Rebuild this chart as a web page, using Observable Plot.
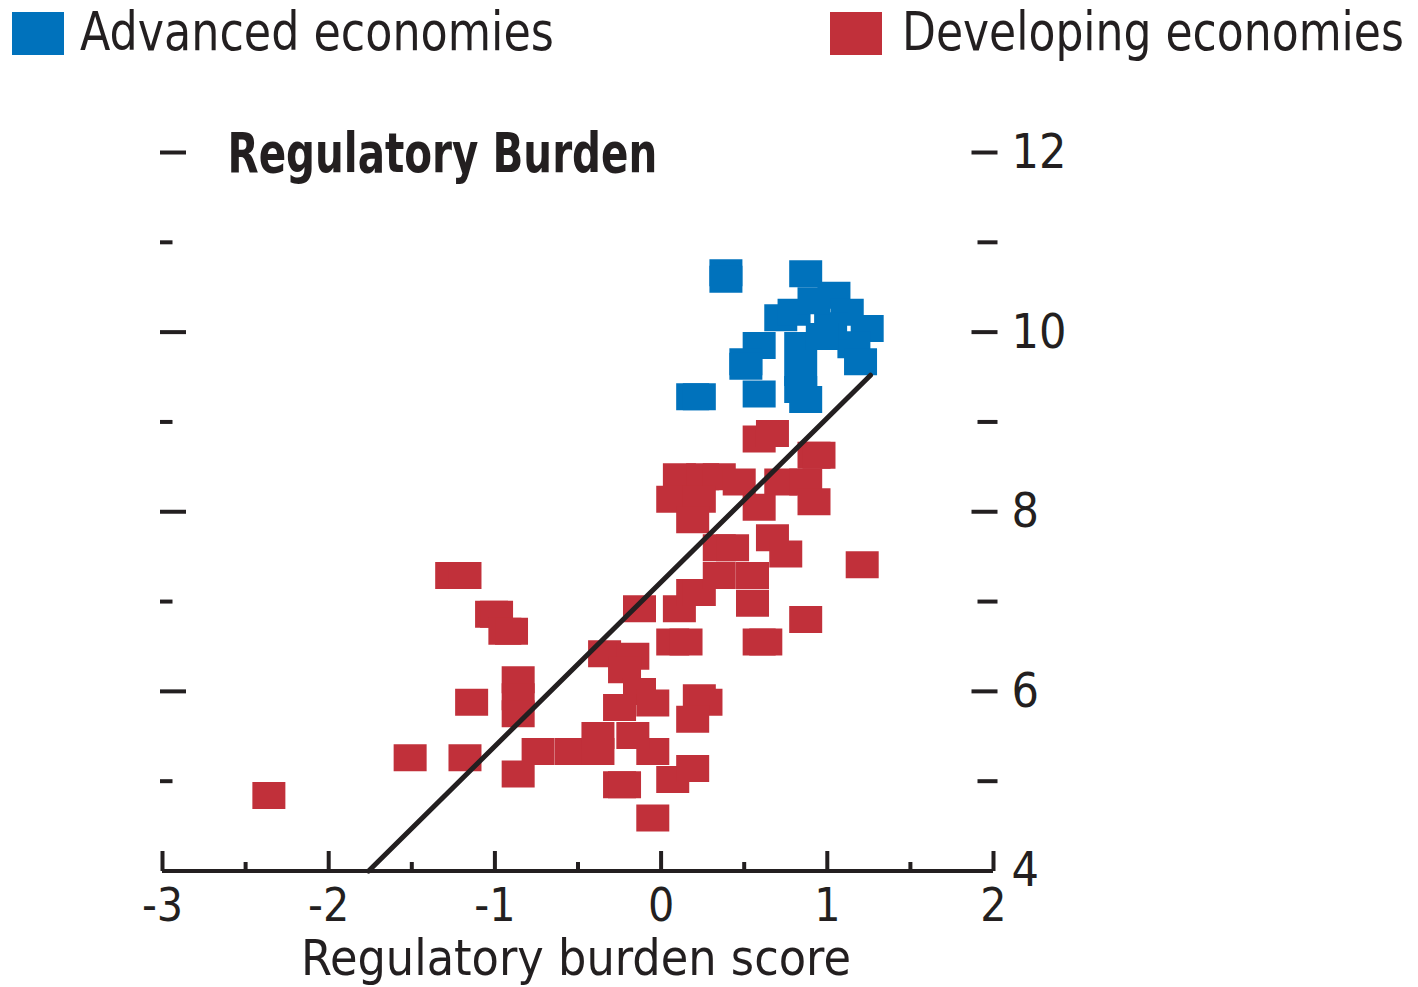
<!DOCTYPE html>
<html><head><meta charset="utf-8">
<script src="https://cdn.jsdelivr.net/npm/d3@7"></script>
<script src="https://cdn.jsdelivr.net/npm/@observablehq/plot@0.6"></script>
<style>
body{margin:0;background:#fff;}
#chart{width:1418px;height:987px;overflow:hidden;}
#chart svg{display:block;}
</style></head><body><div id="chart"></div>
<script>
const FONT = "'Liberation Sans Narrow','Arial Narrow','DejaVu Sans Condensed','Liberation Sans',sans-serif";
const INK = "#231f20";

// ---- data ----
const seriesNames = ["Advanced economies", "Developing economies"];
const seriesColors = ["#0072bc", "#c1303a"];

const advancedX = [0.39, 0.39, 0.87, 1.04, 1.12, 1.24, 0.72, 0.80, 0.59, 0.51, 0.51, 0.59, 0.84, 0.84, 0.84, 0.87, 1.16, 1.20, 1.02, 0.19, 0.23, 0.92, 0.97];
const advancedY = [10.66, 10.59, 10.65, 10.41, 10.22, 10.04, 10.16, 10.22, 9.85, 9.67, 9.62, 9.31, 9.85, 9.55, 9.36, 9.25, 9.86, 9.67, 10.07, 9.28, 9.28, 10.35, 9.95];

const developingX = [-2.36, -1.51, -1.18, -1.14, -0.86, -0.86, -0.86, -0.86, -1.26, -1.18, -1.02, -0.99, -0.94, -0.90,
  -0.74, -0.54, -0.38, -0.05, -0.38, -0.17, -0.25, -0.22, 0.07, 0.19, -0.05, -0.34, -0.17, -0.22, -0.13, -0.05, -0.25,
  0.23, 0.27, 0.19, -0.13, 0.11, 0.19, 0.23, 0.07, 0.15, 0.59, 0.63, 0.87, 1.21, 0.59, 0.67, 0.92, 0.95, 0.72, 0.87,
  0.92, 0.11, 0.25, 0.35, 0.47, 0.07, 0.23, 0.19, 0.59, 0.67, 0.75, 0.35, 0.43, 0.35, 0.55, 0.55];
const developingY = [4.84, 5.26, 5.26, 5.88, 6.13, 5.94, 5.75, 5.08, 7.29, 7.29, 6.86, 6.86, 6.67, 6.67,
  5.33, 5.33, 5.33, 5.33, 5.51, 5.51, 4.96, 4.96, 5.02, 5.14, 4.59, 6.42, 6.39, 6.24, 6.00, 5.87, 5.82,
  5.93, 5.88, 5.69, 6.92, 6.92, 7.10, 7.10, 6.55, 6.55, 6.55, 6.55, 6.80, 7.41, 8.81, 8.87, 8.63, 8.63, 8.33, 8.33,
  8.11, 8.39, 8.39, 8.39, 8.33, 8.14, 8.14, 7.91, 8.05, 7.71, 7.53, 7.60, 7.60, 7.29, 7.29, 6.98];

const fitX = [-1.76, 1.26];
const fitY = [4, 9.52];

const xDomain = [-3, 2];
const yDomain = [4, 12];
const xMajorTicks = [-3, -2, -1, 0, 1, 2];
const xMinorTicks = [-2.5, -1.5, -0.5, 0.5, 1.5];
const yMajorTicks = [6, 8, 10, 12];
const yMinorTicks = [5, 7, 9, 11];
const yLabels = [4, 6, 8, 10, 12];
const chartTitle = "Regulatory Burden";
const xTitle = "Regulatory burden score";

// ---- helpers ----
const rectSymbol = (w, h, ox = 0, oy = 0) => ({
  draw(ctx) { ctx.rect(ox - w / 2, oy - h / 2, w, h); }
});
// squeeze a text horizontally to a target width, keeping its anchor point
function squeeze(t, target) {
  const natural = t.getComputedTextLength();
  if (!natural) return;
  const k = target / natural;
  const x = +(t.getAttribute("x") || 0);
  const prev = t.getAttribute("transform") || "";
  t.setAttribute("transform", `${prev} translate(${x},0) scale(${k},1) translate(${-x},0)`);
}

const advanced = advancedX.map((x, i) => ({x, y: advancedY[i]}));
const developing = developingX.map((x, i) => ({x, y: developingY[i]}));
const fit = fitX.map((x, i) => ({x, y: fitY[i]}));

const chart = document.getElementById("chart");

// ---- legend (above the plot) ----
const legendH = 70;
const legend = d3.create("svg").attr("width", 1418).attr("height", legendH)
  .style("font-family", FONT);
const legendItems = [
  {name: seriesNames[0], color: seriesColors[0], x: 12, tx: 80, w: 474},
  {name: seriesNames[1], color: seriesColors[1], x: 830, tx: 902, w: 502}
];
const legendTexts = [];
for (const it of legendItems) {
  legend.append("rect").attr("x", it.x).attr("y", 12).attr("width", 52).attr("height", 43).attr("fill", it.color);
  legendTexts.push([legend.append("text").attr("x", it.tx).attr("y", 50).attr("font-size", 53).attr("fill", INK)
    .text(it.name).node(), it.w]);
}
chart.append(legend.node());
legendTexts.forEach(([t, w]) => squeeze(t, w));

// ---- plot ----
const H = 987 - legendH;
const plot = Plot.plot({
  width: 1418,
  height: H,
  marginLeft: 162,
  marginRight: 425,
  marginTop: 152 - legendH,
  marginBottom: H - (870.5 - legendH),
  x: {domain: xDomain, axis: null},
  y: {domain: yDomain, axis: null},
  style: {fontFamily: FONT, color: INK, background: "#fff", overflow: "visible"},
  marks: [
    // x axis line and ticks
    Plot.ruleY([4], {stroke: INK, strokeWidth: 4}),
    Plot.dot(xMajorTicks, {x: d => d, frameAnchor: "bottom", symbol: rectSymbol(4, 20, 0, -10), fill: INK, stroke: null}),
    Plot.dot(xMinorTicks, {x: d => d, frameAnchor: "bottom", symbol: rectSymbol(4, 9, 0, -4.5), fill: INK, stroke: null}),
    Plot.text(xMajorTicks, {x: d => d, text: d => String(d), frameAnchor: "bottom", dy: 50, fontSize: 46, fill: INK}),
    // left y ticks
    Plot.dot(yMajorTicks, {y: d => d, frameAnchor: "left", symbol: rectSymbol(26, 4, 10.5, 0), fill: INK, stroke: null}),
    Plot.dot(yMinorTicks, {y: d => d, frameAnchor: "left", symbol: rectSymbol(12.5, 4, 3.75, 0), fill: INK, stroke: null}),
    // right y ticks + labels
    Plot.dot(yMajorTicks, {y: d => d, frameAnchor: "right", symbol: rectSymbol(26, 4, -9, 0), fill: INK, stroke: null}),
    Plot.dot(yMinorTicks, {y: d => d, frameAnchor: "right", symbol: rectSymbol(20, 4, -6, 0), fill: INK, stroke: null}),
    Plot.text(yLabels, {y: d => d, text: d => String(d), frameAnchor: "right", dx: 18, textAnchor: "start", fontSize: 48, fill: INK}),
    // points
    Plot.dot(developing, {x: "x", y: "y", symbol: rectSymbol(33, 27), fill: seriesColors[1], stroke: null}),
    Plot.dot(advanced, {x: "x", y: "y", symbol: rectSymbol(33, 27), fill: seriesColors[0], stroke: null}),
    // fit line
    Plot.line(fit, {x: "x", y: "y", stroke: INK, strokeWidth: 5}),
    // titles
    Plot.text([chartTitle], {frameAnchor: "top-left", dx: 65, dy: -20, textAnchor: "start", fontSize: 56, fontWeight: "bold", fill: INK}),
    Plot.text([xTitle], {frameAnchor: "bottom", dx: -2, dy: 104, fontSize: 50, fill: INK})
  ]
});
chart.append(plot);
plot.querySelectorAll("text").forEach(t => {
  if (t.textContent === chartTitle) squeeze(t, 430);
  if (t.textContent === xTitle) squeeze(t, 550);
});
</script>
</body></html>
